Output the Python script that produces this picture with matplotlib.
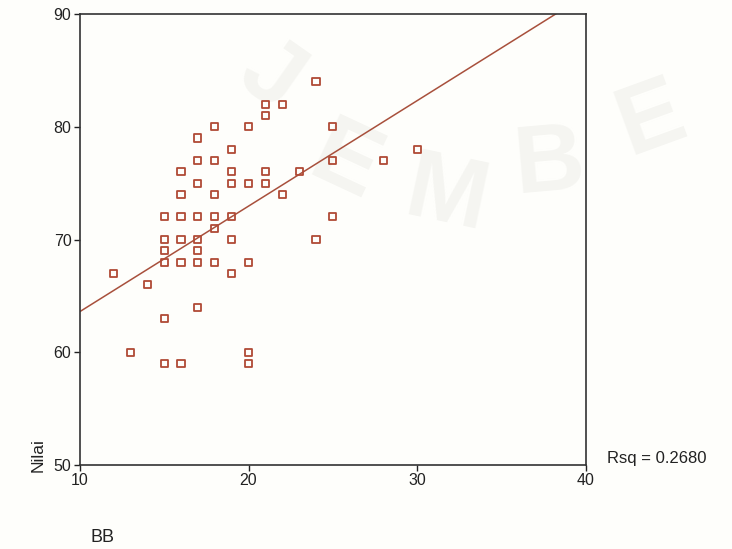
import numpy as np
import matplotlib
matplotlib.use("Agg")
import matplotlib.pyplot as plt

# Data
bb = [12, 13, 14,
      15, 15, 15, 15, 15, 15,
      16, 16, 16, 16, 16, 16,
      17, 17, 17, 17, 17, 17, 17, 17,
      18, 18, 18, 18, 18, 18,
      19, 19, 19, 19, 19, 19,
      20, 20, 20, 20, 20,
      21, 21, 21, 21,
      22, 22, 23, 24, 24,
      25, 25, 25, 28, 30]
nilai = [67, 60, 66,
         72, 70, 69, 68, 63, 59,
         76, 74, 72, 70, 68, 59,
         79, 77, 75, 72, 70, 69, 68, 64,
         80, 77, 74, 72, 71, 68,
         78, 76, 75, 72, 70, 67,
         80, 75, 68, 60, 59,
         82, 81, 76, 75,
         82, 74, 76, 84, 70,
         80, 77, 72, 77, 78]
# fitted line (slope, intercept)
fit_coef = [0.936, 54.24]
x_ticks = [10, 20, 30, 40]
y_ticks = [50, 60, 70, 80, 90]
rsq_label = "Rsq = 0.2680"

plt.rcParams['font.family'] = ['Liberation Sans', 'DejaVu Sans']

fig = plt.figure(figsize=(7.32, 5.49), dpi=100)
fig.patch.set_facecolor('#fefefb')
ax = fig.add_axes([0.109, 0.153, 0.6915, 0.8215])
ax.set_facecolor('none')

# very faint watermark behind everything
for ch, (fx, fy, rot) in zip("JEMBE", [(0.37, 0.86, -35), (0.47, 0.70, -25), (0.61, 0.64, -12),
                                       (0.75, 0.70, 5), (0.89, 0.78, 20)]):
    fig.text(fx, fy, ch, fontsize=70, color='#f5f5f1', rotation=rot,
             ha='center', va='center', fontweight='bold', zorder=-5)

ax.scatter(bb, nilai, marker='s', s=26, facecolors='none',
           edgecolors='#b04a35', linewidths=1.3, zorder=3)

xs = np.array([10, 40])
ax.plot(xs, np.polyval(fit_coef, xs), color='#a8503c', lw=1.1, zorder=2)

ax.set_xlim(10, 40)
ax.set_ylim(50, 90)
ax.set_xticks(x_ticks)
ax.set_yticks(y_ticks)
ax.tick_params(axis='both', labelsize=11.5, length=4, width=1, color='#222222',
               labelcolor='#222222', pad=2)
for sp in ax.spines.values():
    sp.set_linewidth(1.2)
    sp.set_color('#333333')

fig.text(0.052, 0.14, "Nilai", rotation=90, fontsize=12.5, ha='center', va='bottom', color='#222222')
fig.text(0.123, 0.005, "BB", fontsize=13, ha='left', va='bottom', color='#222222')
fig.text(0.829, 0.165, rsq_label, fontsize=12, ha='left', va='center', color='#222222')

fig.savefig("out.png", dpi=100, facecolor=fig.get_facecolor())
